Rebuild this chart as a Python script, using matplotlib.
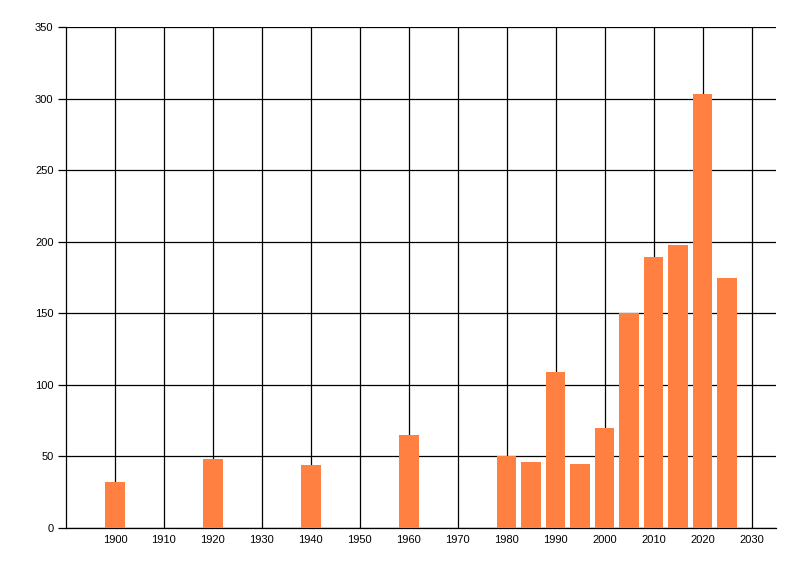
import matplotlib
matplotlib.use('Agg')
import matplotlib.pyplot as plt

# bar positions (year) and counts
years = [1900, 1920, 1940, 1960, 1980, 1985, 1990, 1995,
         2000, 2005, 2010, 2015, 2020, 2025]
counts = [32, 48, 44, 65, 50, 46, 109, 45, 70, 150, 189, 198, 303, 175]
x_ticks = list(range(1900, 2031, 10))
y_ticks = list(range(0, 351, 50))

plt.rcParams['font.family'] = ['Liberation Sans', 'DejaVu Sans']

fig = plt.figure(figsize=(8, 5.76), dpi=100)
ax = fig.add_axes([66 / 800, 48 / 576, 710 / 800, 501 / 576])

ax.bar(years, counts, width=4, color='#FF8040', zorder=3)

ax.set_xlim(1890, 2035)
ax.set_ylim(0, 350)
ax.set_xticks(x_ticks)
ax.set_yticks(y_ticks)
ax.grid(True, color='black', linewidth=0.9, zorder=0)
ax.set_axisbelow(True)

for side in ['top', 'right']:
    ax.spines[side].set_visible(False)
ax.spines['left'].set_linewidth(0.9)
ax.spines['bottom'].set_linewidth(0.9)

ax.tick_params(axis='x', length=0, pad=5, labelsize=8)
ax.tick_params(axis='y', length=6, width=0.9, pad=3, labelsize=8)

fig.savefig('out.png', dpi=100)
